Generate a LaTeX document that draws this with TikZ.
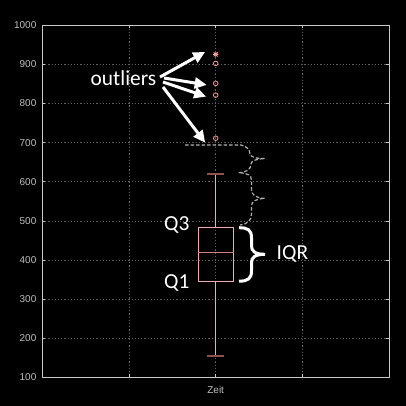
\documentclass[tikz,border=0pt]{standalone}
\usepackage{fontspec}
\setmainfont{Liberation Sans}
\newfontfamily\calib{Carlito}
\usetikzlibrary{arrows.meta}
\definecolor{framec}{HTML}{C8C8C8}
\definecolor{gridc}{HTML}{5E5E5E}
\definecolor{tickc}{HTML}{BEBEBE}
\definecolor{boxc}{HTML}{F2AAAA}
\definecolor{medc}{HTML}{D88080}
\definecolor{capc}{HTML}{8E5050}
\definecolor{outc}{HTML}{F09A9A}
\definecolor{bracec}{HTML}{B0B0B0}
\tikzset{
  gridline/.style={gridc, line width=0.8bp, dash pattern=on 1.2bp off 2bp},
  ticklabel/.style={text=tickc, font=\fontsize{10}{11}\selectfont, inner sep=0pt},
  outmark/.style={circle, draw=outc, line width=0.8bp, minimum size=4.6bp, inner sep=0pt},
  bigtext/.style={text=white, font=\calib\fontsize{21.5}{24}\selectfont, inner sep=0pt},
  whitearrow/.style={white, line width=3bp, -{Triangle[length=12bp,width=11bp]}},
  dashbrace/.style={bracec, line width=1.2bp, dash pattern=on 3.5bp off 2bp},
}
\begin{document}
\begin{tikzpicture}[x=1bp,y=-1bp]
\useasboundingbox (0,0) rectangle (406,406);
\fill[black] (0,0) rectangle (406,406);
% grid
\foreach \yy in {64.4,103.5,142.6,181.7,220.9,260.0,299.1,338.2}
  \draw[gridline] (42,\yy) -- (389,\yy);
\foreach \xx in {129,215.7,302}
  \draw[gridline] (\xx,25.3) -- (\xx,377.3);
% ticks
\foreach \yy in {64.4,103.5,142.6,181.7,220.9,260.0,299.1,338.2}{
  \draw[framec, line width=0.8bp] (42,\yy) -- (45,\yy);
  \draw[framec, line width=0.8bp] (389,\yy) -- (386,\yy);}
\foreach \xx in {129,215.7,302}{
  \draw[framec, line width=0.8bp] (\xx,377.3) -- (\xx,374.3);
  \draw[framec, line width=0.8bp] (\xx,25.3) -- (\xx,28.3);}
% frame
\draw[framec, line width=0.9bp] (42,25.3) rectangle (389,377.3);
% tick labels
\foreach \v/\yy in {1000/25.3,900/64.4,800/103.5,700/142.6,600/181.7,500/220.9,400/260.0,300/299.1,200/338.2,100/377.3}
  \node[ticklabel, anchor=east] (t\v) at (36.5,\yy) {\v};
\node[ticklabel] (zeit) at (215.7,389.5) {Zeit};
% box plot
\node[draw=boxc, line width=0.9bp, minimum width=35bp, minimum height=53.6bp, inner sep=0pt] (box) at (215.8,254.5) {};
\draw[medc, line width=0.9bp] (box.west |- 0,252.3) -- (box.east |- 0,252.3);
\coordinate (wtop) at (215.8,173.7);
\coordinate (wbot) at (215.8,356);
\draw[boxc, line width=0.9bp] (box.north) -- (wtop);
\draw[boxc, line width=0.9bp] (box.south) -- (wbot);
\draw[capc, line width=1.6bp] ([xshift=-8.6bp]wtop) -- ([xshift=8.6bp]wtop);
\draw[capc, line width=1.6bp] ([xshift=-8.6bp]wbot) -- ([xshift=8.6bp]wbot);
% outliers
\node[outmark] (o1) at (215.7,63.4) {};
\node[outmark] (o2) at (215.7,83.4) {};
\node[outmark] (o3) at (215.7,95.1) {};
\node[outmark] (o4) at (215.7,138.2) {};
\coordinate (st) at (215.7,54.4);
\draw[outc, line width=0.9bp] ([xshift=-2.6bp]st) -- ([xshift=2.6bp]st)
  ([yshift=-2.6bp]st) -- ([yshift=2.6bp]st)
  ([shift={(-2bp,-2bp)}]st) -- ([shift={(2bp,2bp)}]st)
  ([shift={(-2bp,2bp)}]st) -- ([shift={(2bp,-2bp)}]st);
% labels
\node[bigtext, anchor=base west] (outl) at (90.5,85) {outliers};
\node[bigtext, anchor=base west] (q3) at (164,230.5) {Q3};
\node[bigtext, anchor=base west] (q1) at (164,288.5) {Q1};
\node[bigtext, anchor=base west] (iqr) at (276.5,259.5) {IQR};
% arrows
\coordinate (a1s) at (160,77);
\coordinate (a2s) at (164,78);
\coordinate (a3s) at (163,82);
\coordinate (a4s) at (163,87);
\draw[whitearrow] (a1s) -- ([shift={(-10.5bp,2.5bp)}]st);
\draw[whitearrow] (a2s) -- ([xshift=-9bp,yshift=-1.5bp]o2.center);
\draw[whitearrow] (a3s) -- ([xshift=-9.5bp,yshift=-1.5bp]o3.center);
\draw[whitearrow] (a4s) -- ([xshift=-10.5bp,yshift=-4.5bp]o4.center);
% IQR brace
\draw[white, line width=3bp] (239,227.7) .. controls (248,227.7) and (251.5,230) .. (251.5,238)
  -- (251.5,246) .. controls (251.5,251) and (255,254.3) .. (265,254.3)
  .. controls (255,254.3) and (251.5,257.5) .. (251.5,262.5)
  -- (251.5,271) .. controls (251.5,278.5) and (248,281.2) .. (239,281.2);
% dashed fence brace
\draw[dashbrace] (185,145) -- (241,145)
  .. controls (247,146) and (250,150) .. (250,154)
  .. controls (251,157) and (255,158.5) .. (265,158.5)
  .. controls (256,159) and (251,161) .. (251,164)
  .. controls (251,169) and (247,172.5) .. (238.5,172.7)
  .. controls (247,173) and (251.5,175) .. (251.5,180)
  -- (251.5,190)
  .. controls (252,195) and (256,198.3) .. (265,198.3)
  .. controls (256,199) and (251.5,201) .. (251.5,206)
  -- (251.5,214)
  .. controls (251.5,220) and (248,224) .. (240,225);
\end{tikzpicture}
\end{document}
